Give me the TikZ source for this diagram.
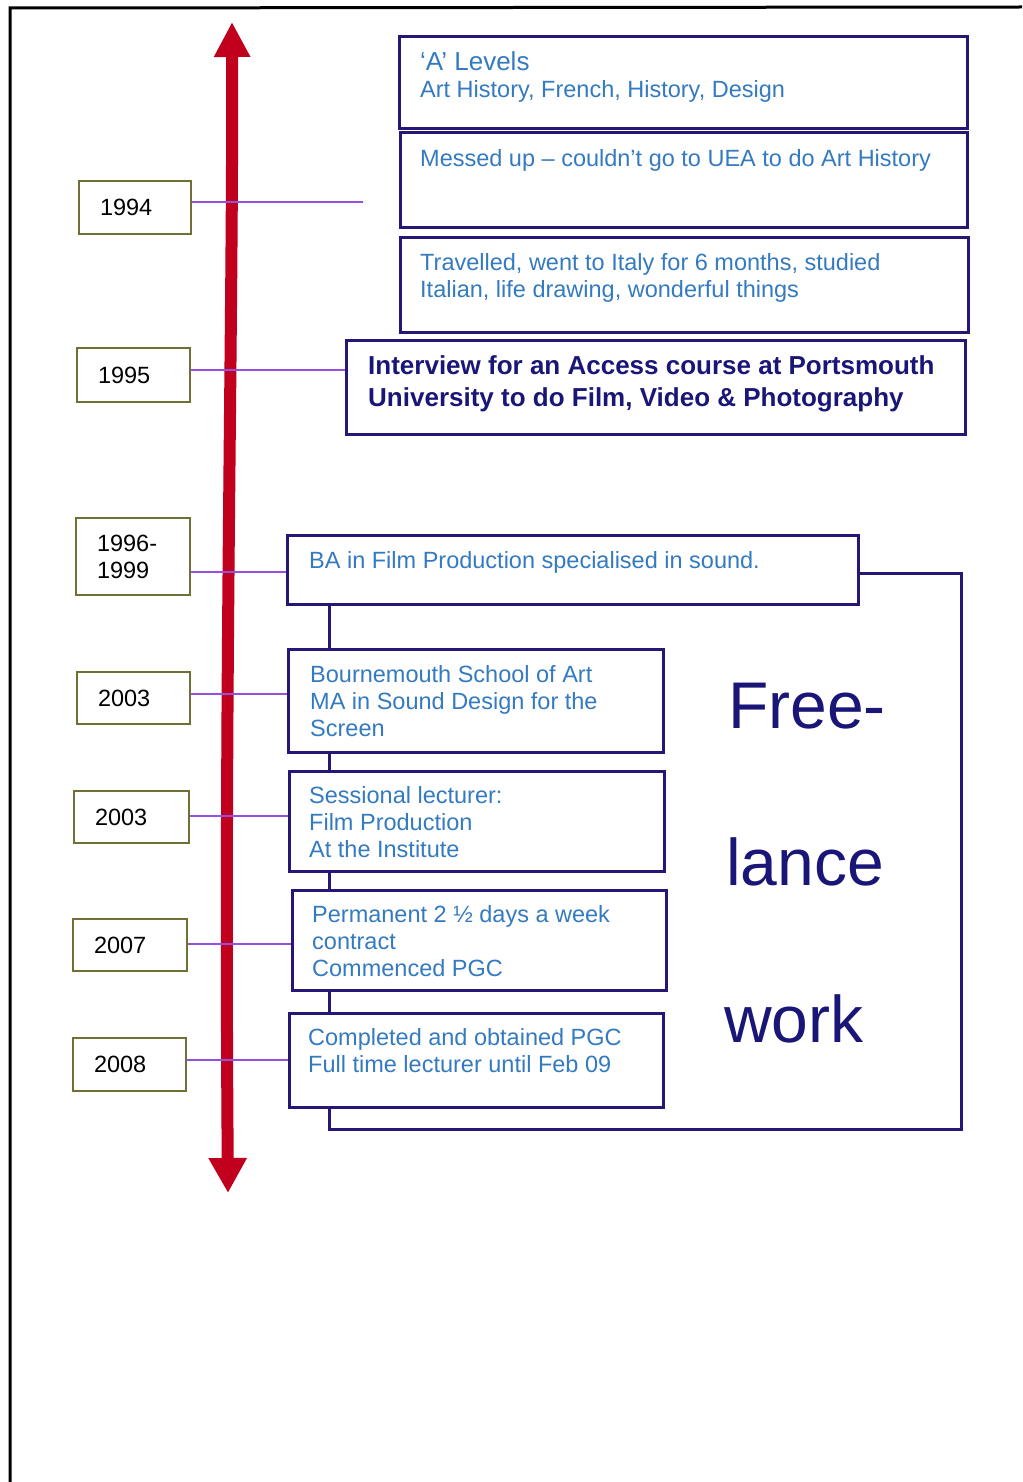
\documentclass[tikz,border=0pt]{standalone}
\usepackage{fontspec}
\setmainfont{Liberation Sans}
\usetikzlibrary{arrows.meta}
\definecolor{navy}{RGB}{38,22,118}
\definecolor{txtblue}{RGB}{52,122,192}
\definecolor{darkblue}{RGB}{26,22,120}
\definecolor{olivebox}{RGB}{112,112,52}
\definecolor{tickviolet}{RGB}{150,80,225}
\definecolor{timered}{RGB}{192,0,28}
\begin{document}
\begin{tikzpicture}[x=1pt,y=-1pt,
  evbox/.style={draw=navy, line width=3pt, inner sep=0pt, anchor=north west},
  yearbox/.style={draw=olivebox, line width=2pt, fill=white, inner xsep=21pt, inner ysep=0pt,
    anchor=north west, align=left, font=\fontsize{23.5}{27}\selectfont},
  evtext/.style={inner sep=0pt, anchor=north west, align=left, text=txtblue,
    font=\fontsize{23.5}{27}\selectfont},
  evline/.style={inner sep=0pt, anchor=base west, text=txtblue,
    font=\fontsize{23.5}{27}\selectfont},
  bigword/.style={inner sep=0pt, anchor=base west, text=darkblue,
    font=\fontsize{66}{79}\selectfont},
  tick/.style={draw=tickviolet, line width=2pt},
  link/.style={draw=navy, line width=3pt},
  timeline/.style={draw=timered, line width=12pt,
    {Triangle[width=34pt,length=35pt]}-{Triangle[width=36pt,length=35pt]}}
]
\useasboundingbox (0,0) rectangle (1022,1482);

% page frame
\draw[line width=3pt] (10,1482) -- (10,8) -- (1022,7);

% the time axis
\coordinate (axtop) at (232,22);
\coordinate (axbot) at (228,1193);
\draw[timeline] (axtop) .. controls (233,320) and (224,700) .. (axbot);

% year boxes
\node[yearbox, text width=70pt, minimum height=53pt] (y94) at (78,180) {1994};
\node[yearbox, text width=71pt, minimum height=54pt] (y95) at (76,347) {1995};
\node[yearbox, text width=72pt, minimum height=77pt] (y96) at (75,517) {1996-\\1999};
\node[yearbox, text width=71pt, minimum height=52pt] (y03a) at (76,671) {2003};
\node[yearbox, text width=73pt, minimum height=52pt] (y03b) at (73,790) {2003};
\node[yearbox, text width=72pt, minimum height=52pt] (y07) at (72,918) {2007};
\node[yearbox, text width=71pt, minimum height=53pt] (y08) at (72,1037) {2008};

% event boxes
\node[evbox, minimum width=568pt, minimum height=92pt] (alev) at (398,35) {};
\node[evbox, minimum width=567pt, minimum height=95pt] (mess) at (399,131) {};
\node[evbox, minimum width=568pt, minimum height=95pt] (trav) at (399,236) {};
\node[evbox, minimum width=619pt, minimum height=94pt] (intv) at (345,339) {};
\node[evbox, minimum width=571pt, minimum height=69pt] (ba) at (286,534) {};
\node[evbox, minimum width=375pt, minimum height=103pt] (bsa) at (287,648) {};
\node[evbox, minimum width=375pt, minimum height=100pt] (sess) at (288,770) {};
\node[evbox, minimum width=374pt, minimum height=100pt] (perm) at (291,889) {};
\node[evbox, minimum width=374pt, minimum height=94pt] (comp) at (288,1012) {};

% event texts
\node[evtext] (t-alev) at (420,51.1) {\strut{\fontsize{26}{27}\selectfont ‘A’ Levels}\\Art History, French, History, Design};
\node[evline] (t-mess) at (420,166.7) {Messed up – couldn’t go to UEA to do Art History};
\node[evtext] (t-trav) at (420,251.1) {\strut Travelled, went to Italy for 6 months, studied\\Italian, life drawing, wonderful things};
\node[evtext, text=darkblue, font=\bfseries\fontsize{26}{32}\selectfont] (t-intv) at (368,352)
  {\strut Interview for an Access course at Portsmouth\\University to do Film, Video \& Photography};
\node[evline] (t-ba) at (309,568) {BA in Film Production specialised in sound.};
\node[evtext] (t-bsa) at (310,663.1) {\strut Bournemouth School of Art\\MA in Sound Design for the\\Screen};
\node[evtext] (t-sess) at (309,784.1) {\strut Sessional lecturer:\\Film Production\\At the Institute};
\node[evtext] (t-perm) at (312,903.1) {\strut Permanent 2 ½ days a week\\contract\\Commenced PGC};
\node[evtext] (t-comp) at (308,1026.1) {\strut Completed and obtained PGC\\Full time lecturer until Feb 09};

% free-lance label
\node[bigword] (w-free) at (728,728) {Free-};
\node[bigword] (w-lance) at (726,885) {lance};
\node[bigword] (w-work) at (724,1042) {work};

% year ticks
\coordinate (c94) at (363,202);
\coordinate (k95) at (0,370);
\coordinate (k96) at (0,572);
\coordinate (k03a) at (0,694);
\coordinate (k03b) at (0,816);
\coordinate (k07) at (0,944);
\coordinate (k08) at (0,1060);
\draw[tick] (y94.east |- c94) -- (c94);
\draw[tick] (y95.east |- k95) -- (intv.west |- k95);
\draw[tick] (y96.east |- k96) -- (ba.west |- k96);
\draw[tick] (y03a.east |- k03a) -- (bsa.west |- k03a);
\draw[tick] (y03b.east |- k03b) -- (sess.west |- k03b);
\draw[tick] (y07.east |- k07) -- (perm.west |- k07);
\draw[tick] (y08.east |- k08) -- (comp.west |- k08);

% chain of posts and the free-lance bracket
\coordinate (spine) at (329,0);
\coordinate (brk) at (961,1129);
\draw[link] (ba.south -| spine) -- (bsa.north -| spine);
\draw[link] (bsa.south -| spine) -- (sess.north -| spine);
\draw[link] (sess.south -| spine) -- (perm.north -| spine);
\draw[link] (perm.south -| spine) -- (comp.north -| spine);
\draw[link] (comp.south -| spine) |- (brk) |- ([yshift=-3.5pt]ba.east);
\end{tikzpicture}
\end{document}
